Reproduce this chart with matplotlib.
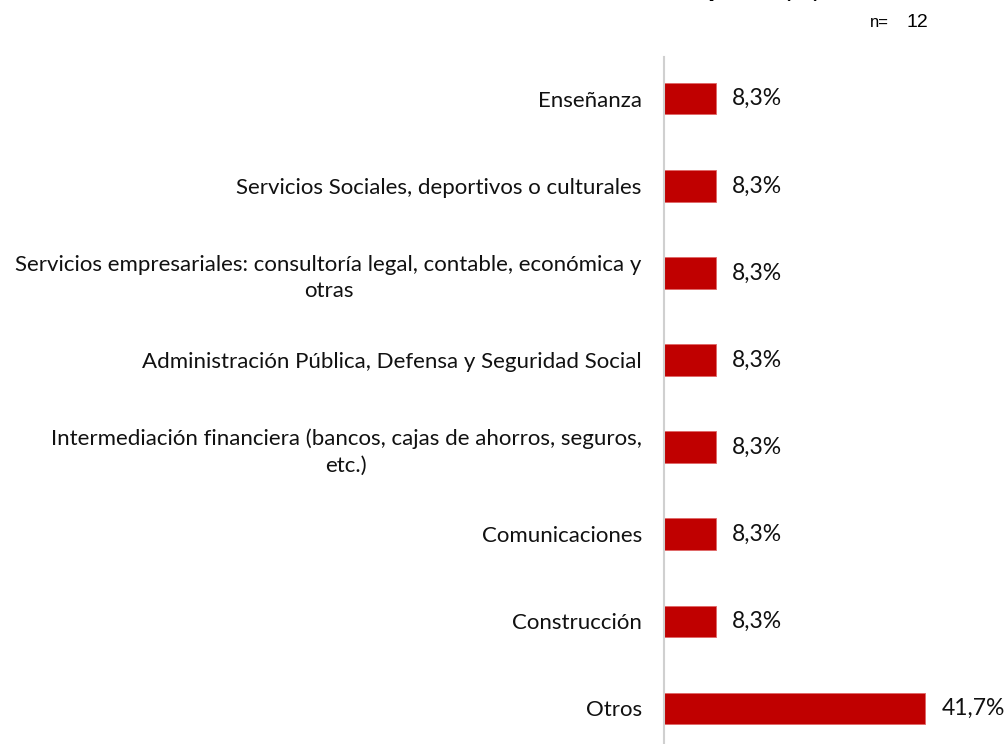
import matplotlib
matplotlib.use("Agg")
import matplotlib.pyplot as plt

categories = ["Otros", "Construcción", "Comunicaciones",
              "Intermediación financiera (bancos, cajas de ahorros, seguros,\netc.)",
              "Administración Pública, Defensa y Seguridad Social",
              "Servicios empresariales: consultoría legal, contable, económica y\notras",
              "Servicios Sociales, deportivos o culturales",
              "Enseñanza"]
values = [41.7, 8.3, 8.3, 8.3, 8.3, 8.3, 8.3, 8.3]
value_labels = ["41,7%", "8,3%", "8,3%", "8,3%", "8,3%", "8,3%", "8,3%", "8,3%"]

W, H = 1008, 744
fig = plt.figure(figsize=(W/100, H/100), dpi=100)
ax_left = 664 / W
ax_w = 300 / W
ax_top = 57 / H
ax = fig.add_axes([ax_left, 0, ax_w, 1 - ax_top])

ypos = list(range(len(categories)))
ax.barh(ypos, values, height=0.36, color="#C00000", edgecolor="#E06666", linewidth=0.6)
ax.set_xlim(0, 300/6.27)
ax.set_ylim(-0.41, 7.48)

for y, v, lab in zip(ypos, values, value_labels):
    ax.text(v + 16/6.27, y, lab, va="center", ha="left", fontsize=16.5,
            family="Lato", color="#111111")

ax.set_yticks(ypos)
ax.set_yticklabels(categories, fontsize=16, family="Lato", color="#111111",
                   linespacing=1.4)
for t in ax.get_yticklabels():
    t.set_multialignment("center")
ax.tick_params(axis="y", length=0, pad=16)
ax.set_xticks([])
for s in ["top", "right", "bottom"]:
    ax.spines[s].set_visible(False)
ax.spines["left"].set_color("#D0D0D0")
ax.spines["left"].set_linewidth(1.5)

# Title (cut off at the top edge, as in the reference)
fig.text(778/W, 1 + 4/H, "Sector de actividad de la empresa", ha="right", va="baseline",
         fontsize=19, fontweight="bold", family="Liberation Sans")
fig.text(781/W, 1 + 4/H, "(%)", ha="left", va="baseline",
         fontsize=19, family="Liberation Sans")

fig.text(870/W, 1 - 27/H, "n=", ha="left", va="baseline", fontsize=12, family="Liberation Sans")
fig.text(907/W, 1 - 27/H, "12", ha="left", va="baseline", fontsize=14, family="Liberation Sans")

fig.savefig("out.png", dpi=100)
